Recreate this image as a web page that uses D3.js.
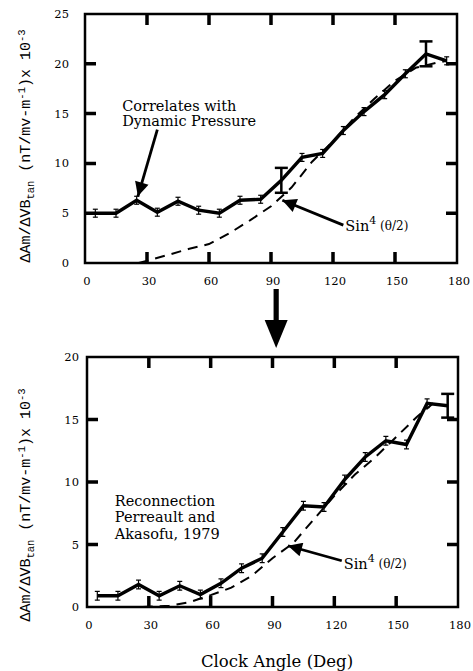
<!DOCTYPE html>
<html>
<head>
<meta charset="utf-8">
<title>Clock angle dependence</title>
<script src="https://d3js.org/d3.v7.min.js"></script>
<style>
  body { margin: 0; background: #fff; }
  svg { display: block; background: #fff; }
  .tick-label { font-family: "DejaVu Serif", serif; font-size: 11.5px; fill: #000; }
  .note { font-family: "DejaVu Serif", serif; font-size: 14.5px; fill: #000; }
  .ylab { font-family: "Liberation Mono", monospace; font-size: 15px; fill: #000; }
</style>
</head>
<body>
<script>
// bin centres (deg)
const angles = [5, 15, 25, 35, 45, 55, 65, 75, 85, 95, 105, 115, 125, 135, 145, 155, 165, 175];

// top panel: dynamic pressure correlation
const topValues = [5.0, 5.0, 6.3, 5.1, 6.2, 5.3, 5.0, 6.3, 6.4, 8.3, 10.6, 11.0, 13.3, 15.2, 16.9, 19.0, 21.0, 20.3];
const topErrors = [0.4, 0.4, 0.4, 0.4, 0.4, 0.4, 0.4, 0.4, 0.4, 1.25, 0.4, 0.4, 0.4, 0.4, 0.4, 0.4, 1.25, 0.4];
const topModelAngles = [26, 40, 50, 60, 70, 80, 90, 100, 110, 120, 130, 140, 150, 160, 170, 175];
const topModelValues = [0, 0.8, 1.4, 1.9, 3.0, 4.3, 5.7, 7.6, 10.2, 12.2, 14.5, 16.5, 18.3, 19.6, 20.1, 20.3];

// bottom panel: reconnection (Perreault and Akasofu)
const bottomValues = [0.9, 0.9, 1.8, 0.9, 1.7, 1.0, 1.9, 3.1, 3.9, 6.0, 8.1, 8.0, 10.2, 12.0, 13.3, 13.0, 16.3, 16.1];
const bottomErrors = [0.35, 0.35, 0.35, 0.35, 0.35, 0.35, 0.35, 0.35, 0.35, 0.35, 0.35, 0.35, 0.35, 0.35, 0.35, 0.35, 0.35, 0.95];
const bottomModelAngles = [27, 40, 50, 60, 70, 80, 90, 100, 110, 120, 130, 140, 150, 160, 168];
const bottomModelValues = [0, 0.1, 0.4, 0.95, 1.55, 2.5, 3.9, 5.1, 7.0, 8.9, 10.6, 12.0, 13.6, 15.2, 16.3];

const xTicks = [0, 30, 60, 90, 120, 150, 180];
const topYTicks = [0, 5, 10, 15, 20, 25];
const bottomYTicks = [0, 5, 10, 15, 20];

const W = 473, H = 671;

const svg = d3.select("body").append("svg")
  .attr("width", W)
  .attr("height", H);

svg.append("defs").append("marker")
  .attr("id", "head")
  .attr("viewBox", "0 0 10 10")
  .attr("refX", 10).attr("refY", 5)
  .attr("markerWidth", 6.5).attr("markerHeight", 5)
  .attr("markerUnits", "strokeWidth")
  .attr("orient", "auto")
  .append("path")
  .attr("d", "M0,0 L10,5 L0,10 Z")
  .attr("fill", "#000");

function panel(opts) {
  const x = d3.scaleLinear().domain([0, 180]).range([opts.left, opts.right]);
  const y = d3.scaleLinear().domain([0, opts.yMax]).range([opts.bottom, opts.top]);
  const g = svg.append("g");
  const T = 11;

  g.append("rect")
    .attr("x", opts.left).attr("y", opts.top)
    .attr("width", opts.right - opts.left).attr("height", opts.bottom - opts.top)
    .attr("fill", "none").attr("stroke", "#000").attr("stroke-width", 2.5);

  // inward ticks on all four sides, one path
  const inner = xTicks.slice(1, -1);
  const innerY = opts.yTicks.slice(1, -1);
  let d = "";
  inner.forEach(v => {
    d += `M${x(v)},${opts.bottom}v${-T}M${x(v)},${opts.top}v${T}`;
  });
  innerY.forEach(v => {
    d += `M${opts.left},${y(v)}h${T}M${opts.right},${y(v)}h${-T}`;
  });
  g.append("path")
    .attr("d", d)
    .attr("fill", "none")
    .attr("stroke", "#000")
    .attr("stroke-width", 3.5);

  // tick labels
  g.selectAll(null).data(xTicks).enter().append("text")
    .attr("class", "tick-label")
    .attr("x", v => x(v) + 2).attr("y", opts.bottom + 22)
    .attr("text-anchor", "middle")
    .text(v => v);
  g.selectAll(null).data(opts.yTicks).enter().append("text")
    .attr("class", "tick-label")
    .attr("x", opts.left - opts.yLabelGap).attr("y", v => y(v) + 4)
    .attr("text-anchor", "end")
    .text(v => v);

  // model curve
  const model = d3.zip(opts.modelAngles, opts.modelValues);
  g.append("path").datum(model)
    .attr("fill", "none").attr("stroke", "#000")
    .attr("stroke-width", 2).attr("stroke-dasharray", "10,7")
    .attr("d", d3.line().x(p => x(p[0])).y(p => y(p[1])));

  // data line
  const pts = d3.zip(angles, opts.values, opts.errors);
  g.append("path").datum(pts)
    .attr("fill", "none").attr("stroke", "#000")
    .attr("stroke-width", 3.4).attr("stroke-linejoin", "miter")
    .attr("d", d3.line().x(p => x(p[0])).y(p => y(p[1])));

  // error bars
  const eb = g.selectAll(null).data(pts).enter().append("g");
  const big = p => p[2] > 0.8;
  eb.append("line")
    .attr("x1", p => x(p[0])).attr("x2", p => x(p[0]))
    .attr("y1", p => y(p[1] - p[2])).attr("y2", p => y(p[1] + p[2]))
    .attr("stroke", "#000").attr("stroke-width", p => big(p) ? 2.5 : 1.2);
  [-1, 1].forEach(s => {
    eb.append("line")
      .attr("x1", p => x(p[0]) - (big(p) ? 6.5 : 2.5))
      .attr("x2", p => x(p[0]) + (big(p) ? 6.5 : 2.5))
      .attr("y1", p => y(p[1] + s * p[2])).attr("y2", p => y(p[1] + s * p[2]))
      .attr("stroke", "#000").attr("stroke-width", p => big(p) ? 2.5 : 1.2);
  });

  // y axis title
  const yt = svg.append("text").attr("class", "ylab")
    .attr("transform", `translate(30,${opts.labelY}) rotate(-90)`)
    .attr("text-anchor", "middle");
  yt.append("tspan").text("\u0394Am/\u0394VB");
  yt.append("tspan").attr("font-size", 10.5).attr("dy", 4).text("tan");
  yt.append("tspan").attr("dy", -4).text(" (nT/mv-m");
  yt.append("tspan").attr("font-size", 10.5).attr("dy", -5).text("-1");
  yt.append("tspan").attr("dy", 5).text(")x 10");
  yt.append("tspan").attr("font-size", 10.5).attr("dy", -5).text("-3");

  // sin^4 label and arrow
  const s = opts.sin;
  g.append("line")
    .attr("x1", x(s.from[0])).attr("y1", y(s.from[1]))
    .attr("x2", x(s.to[0])).attr("y2", y(s.to[1]))
    .attr("stroke", "#000").attr("stroke-width", 2.8)
    .attr("marker-end", "url(#head)");
  const st = g.append("text").attr("class", "note")
    .attr("font-size", 14)
    .attr("x", x(s.from[0]) + 2).attr("y", y(s.from[1]) + s.dy);
  st.append("tspan").text("Sin");
  st.append("tspan").attr("font-size", 11).attr("dy", -7).text("4");
  st.append("tspan").attr("font-size", 12).attr("dy", 6).text(" (\u03b8/2)");

  return { x, y, g };
}

const topPanel = panel({
  left: 85, right: 457, top: 14, bottom: 263, yMax: 25,
  yTicks: topYTicks, yLabelGap: 16,
  values: topValues, errors: topErrors,
  modelAngles: topModelAngles, modelValues: topModelValues,
  labelY: 146,
  sin: { from: [125, 3.8], to: [95.5, 6.3], dy: 6 }
});

const botPanel = panel({
  left: 87, right: 458, top: 357, bottom: 607, yMax: 20,
  yTicks: bottomYTicks, yLabelGap: 8,
  values: bottomValues, errors: bottomErrors,
  modelAngles: bottomModelAngles, modelValues: bottomModelValues,
  labelY: 505,
  sin: { from: [123.6, 3.7], to: [97.5, 4.9], dy: 8 }
});

// top annotation
topPanel.g.append("line")
  .attr("x1", topPanel.x(35)).attr("y1", topPanel.y(13.4))
  .attr("x2", topPanel.x(25.6)).attr("y2", topPanel.y(6.7))
  .attr("stroke", "#000").attr("stroke-width", 2.8)
  .attr("marker-end", "url(#head)");
topPanel.g.append("text").attr("class", "note")
  .attr("x", topPanel.x(18)).attr("y", topPanel.y(15.3))
  .text("Correlates with");
topPanel.g.append("text").attr("class", "note")
  .attr("x", topPanel.x(18)).attr("y", topPanel.y(13.8))
  .text("Dynamic Pressure");

// bottom annotation
["Reconnection", "Perreault and", "Akasofu, 1979"].forEach((t, i) => {
  botPanel.g.append("text").attr("class", "note")
    .attr("x", botPanel.x(13.5)).attr("y", botPanel.y(8.1) + i * 16.5)
    .text(t);
});

// big arrow between panels
const ax = topPanel.x(92.5);
svg.append("rect")
  .attr("x", ax - 2.6).attr("y", 289).attr("width", 5.2).attr("height", 34)
  .attr("fill", "#000");
svg.append("path")
  .attr("d", `M${ax - 11.5},320 L${ax + 11.5},320 L${ax},348 Z`)
  .attr("fill", "#000");

svg.append("text")
  .attr("x", 277).attr("y", 667)
  .attr("text-anchor", "middle")
  .attr("font-family", "DejaVu Serif, serif")
  .attr("font-size", 16.5)
  .attr("fill", "#000")
  .text("Clock Angle (Deg)");
</script>
</body>
</html>
